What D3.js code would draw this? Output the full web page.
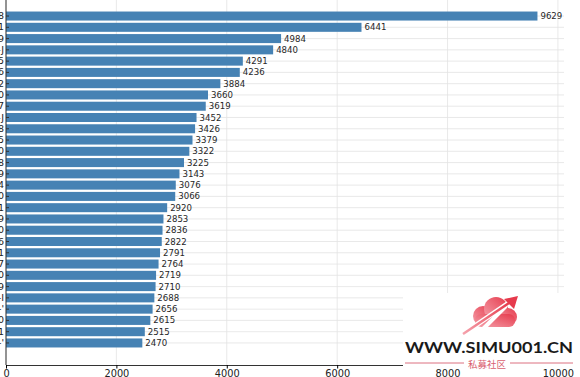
<!DOCTYPE html>
<html>
	<head>
		<meta charset="utf-8">
		<title>Bar ranking</title>
		<script src="https://cdn.jsdelivr.net/npm/d3@7"></script>
		<style>
			body { margin: 0; background: #fff; }
			svg { display: block; font-family: "DejaVu Sans", sans-serif; }
		</style>
	</head>
	<body>
		<script>
		// categories top to bottom (only the last character shows, the rest is cut off)
		var labels = ["A-8", "A-1", "A-9", "A-J", "A-5", "A-6", "A-2", "A-0", "A-7", "B-J",
			"B-8", "B-5", "B-0", "B-8", "B-9", "B-4", "B-0", "C-1", "C-9", "C-0",
			"C-6", "C-1", "C-7", "C-0", "D-9", "D-I", "D-'", "D-0", "D-1", "E-'"];
		var values = [9629, 6441, 4984, 4840, 4291, 4236, 3884, 3660, 3619, 3452,
			3426, 3379, 3322, 3225, 3143, 3076, 3066, 2920, 2853, 2836,
			2822, 2791, 2764, 2719, 2710, 2688, 2656, 2615, 2515, 2470];
		var xTicks = [0, 2000, 4000, 6000, 8000, 10000];

		var data = labels.map(function(l, i) { return {key: i, label: l, value: values[i]}; });

		var width = 580, height = 377;
		var svg = d3.select("body").append("svg")
			.attr("width", width)
			.attr("height", height);

		var x = d3.scaleLinear().domain([0, 10110]).range([6, 564]);
		var y = d3.scaleBand()
			.domain(data.map(function(d) { return d.key; }))
			.range([10.4, 348.6])
			.paddingInner(0.2)
			.paddingOuter(0.1);
		var plotTop = -6, plotBottom = 365;

		// grid
		svg.append("g").selectAll("line.vg")
			.data(xTicks)
			.enter().append("line")
			.attr("x1", function(d) { return x(d); })
			.attr("x2", function(d) { return x(d); })
			.attr("y1", plotTop).attr("y2", plotBottom)
			.attr("stroke", "#e3e3e3").attr("stroke-width", 0.8);
		svg.append("g").selectAll("line.hg")
			.data(data)
			.enter().append("line")
			.attr("x1", x(0)).attr("x2", x.range()[1])
			.attr("y1", function(d) { return y(d.key) + y.bandwidth() / 2; })
			.attr("y2", function(d) { return y(d.key) + y.bandwidth() / 2; })
			.attr("stroke", "#e3e3e3").attr("stroke-width", 0.8);

		// bars
		svg.append("g").selectAll("rect")
			.data(data)
			.enter().append("rect")
			.attr("x", x(0))
			.attr("y", function(d) { return y(d.key); })
			.attr("width", function(d) { return x(d.value) - x(0); })
			.attr("height", y.bandwidth())
			.attr("fill", "#4682b4");

		// value labels
		svg.append("g").selectAll("text")
			.data(data)
			.enter().append("text")
			.attr("x", function(d) { return x(d.value) + 3; })
			.attr("y", function(d) { return y(d.key) + y.bandwidth() / 2; })
			.attr("dy", "0.35em")
			.attr("font-size", 8.6)
			.attr("fill", "#262626")
			.text(function(d) { return d.value; });

		// axes
		var yAxis = d3.axisLeft(y)
			.tickFormat(function(k) { return labels[k]; })
			.tickSizeInner(-3).tickSizeOuter(0).tickPadding(2);
		var gy = svg.append("g")
			.attr("transform", "translate(" + x(0) + ",0)")
			.call(yAxis);
		gy.selectAll("text").attr("font-size", 9.5).attr("fill", "#222").attr("font-family", "DejaVu Sans");
		gy.selectAll(".tick line").attr("stroke", "#333");
		gy.select(".domain").attr("d", "M0," + plotTop + "V" + plotBottom).attr("stroke", "#333");

		var xAxis = d3.axisBottom(x).tickValues(xTicks).tickFormat(d3.format("d"))
			.tickSizeInner(3.5).tickSizeOuter(0).tickPadding(2);
		var gx = svg.append("g")
			.attr("transform", "translate(0," + plotBottom + ")")
			.call(xAxis);
		gx.selectAll("text").attr("font-size", 9.8).attr("fill", "#222").attr("font-family", "DejaVu Sans");
		gx.select(".domain").attr("stroke", "#333");

		// watermark
		var wm = svg.append("g");
		wm.append("rect").attr("x", 403).attr("y", 293).attr("width", 177).attr("height", 76).attr("fill", "#fff");
		var grad = svg.append("defs").append("linearGradient")
			.attr("id", "cg").attr("x1", "0%").attr("y1", "100%").attr("x2", "100%").attr("y2", "0%");
		grad.append("stop").attr("offset", "0%").attr("stop-color", "#f5a3ad");
		grad.append("stop").attr("offset", "100%").attr("stop-color", "#e63a4c");
		var cloud = wm.append("g").attr("fill", "url(#cg)");
		cloud.append("circle").attr("cx", 483).attr("cy", 316).attr("r", 10);
		cloud.append("circle").attr("cx", 496).attr("cy", 309).attr("r", 12);
		cloud.append("circle").attr("cx", 508).attr("cy", 317).attr("r", 9);
		cloud.append("rect").attr("x", 475).attr("y", 314).attr("width", 40).attr("height", 13).attr("rx", 6);
		wm.append("line").attr("x1", 478).attr("y1", 334).attr("x2", 506).attr("y2", 306)
			.attr("stroke", "#fff").attr("stroke-width", 4);
		wm.append("line").attr("x1", 463).attr("y1", 334).attr("x2", 510).attr("y2", 302)
			.attr("stroke", "#fff").attr("stroke-width", 5);
		wm.append("line").attr("x1", 463).attr("y1", 334).attr("x2", 509).attr("y2", 303)
			.attr("stroke", "url(#cg)").attr("stroke-width", 2.5);
		wm.append("path").attr("d", "M518,296 L504,299 L514,309 Z").attr("fill", "#e63a4c");
		wm.append("text").attr("x", 405).attr("y", 353)
			.attr("font-size", 16).attr("font-weight", "bold").attr("font-family", "Lato, sans-serif")
			.attr("fill", "#1a1a1a").attr("textLength", 168).attr("lengthAdjust", "spacingAndGlyphs")
			.text("WWW.SIMU001.CN");
		wm.append("line").attr("x1", 405).attr("x2", 464).attr("y1", 363).attr("y2", 363).attr("stroke", "#dc7080").attr("stroke-width", 1);
		wm.append("line").attr("x1", 510).attr("x2", 573).attr("y1", 363).attr("y2", 363).attr("stroke", "#dc7080").attr("stroke-width", 1);
		wm.append("text").attr("x", 487).attr("y", 367.5).attr("text-anchor", "middle")
			.attr("font-size", 9.5).attr("font-family", "Noto Sans CJK SC").attr("fill", "#d9606f")
			.text("私募社区");
		</script>
	</body>
</html>
